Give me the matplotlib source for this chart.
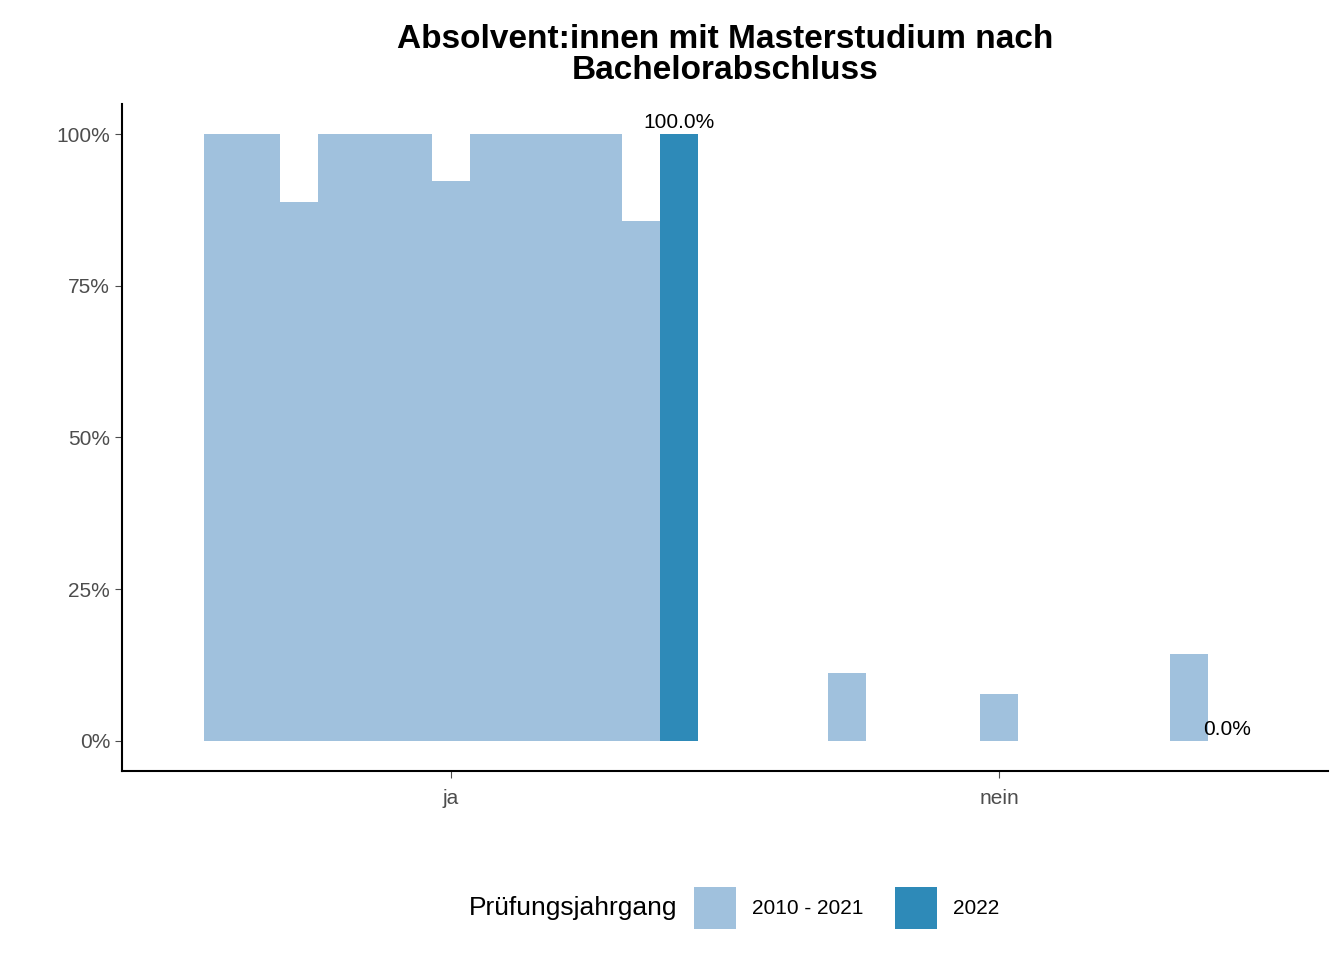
import matplotlib
matplotlib.use("Agg")
import matplotlib.pyplot as plt
from matplotlib.patches import Rectangle

plt.rcParams["font.family"] = "Liberation Sans"

categories = ["ja", "nein"]
years = list(range(2010, 2023))
ja_values = [100, 100, 88.9, 100, 100, 100, 92.3, 100, 100, 100, 100, 85.7, 100]
nein_values = [0, 0, 11.1, 0, 0, 0, 7.7, 0, 0, 0, 0, 14.3, 0]
legend_labels = ["2010 - 2021", "2022"]

light, dark = "#A0C1DD", "#2E8AB8"
W, H = 1344, 960
fig = plt.figure(figsize=(13.44, 9.6), dpi=100)
ax = fig.add_axes([122 / W, 1 - 771 / H, (1328 - 122) / W, (771 - 104) / H])

n = len(years)
w = 0.9 / n
for ci, vals in enumerate([ja_values, nein_values]):
    center = ci + 1
    for k, v in enumerate(vals):
        x = center - 0.45 + w * (k + 0.5)
        ax.bar(x, v, width=w, color=dark if years[k] == 2022 else light, linewidth=0)
    xl = center - 0.45 + w * (n - 0.5)
    ax.text(xl, vals[-1] + 0.3, f"{vals[-1]:.1f}%", ha="center", va="bottom", fontsize=15)

ax.set_xlim(0.4, 2.6)
ax.set_ylim(-5, 105)
ax.set_xticks([1, 2])
ax.set_xticklabels(categories)
ax.set_yticks([0, 25, 50, 75, 100])
ax.set_yticklabels(["0%", "25%", "50%", "75%", "100%"])
ax.tick_params(labelsize=15, colors="#4d4d4d", length=5)
ax.tick_params(axis="x", pad=8)
for s in ["top", "right"]:
    ax.spines[s].set_visible(False)
for s in ["left", "bottom"]:
    ax.spines[s].set_linewidth(1.5)

ax.set_title("Absolvent:innen mit Masterstudium nach\nBachelorabschluss",
             fontsize=24, fontweight="bold", pad=18, linespacing=1.0)

# legend drawn manually in figure pixel coords
ly = 1 - 908 / H
fig.text(677 / W, ly, "Prüfungsjahrgang", ha="right", va="center", fontsize=19)
for x0, col, lab in [(694, light, legend_labels[0]), (895, dark, legend_labels[1])]:
    fig.patches.append(Rectangle((x0 / W, 1 - 929 / H), 42 / W, 42 / H,
                                 transform=fig.transFigure, color=col, linewidth=0))
    fig.text((x0 + 58) / W, ly, lab, ha="left", va="center", fontsize=15)

fig.savefig("out.png", dpi=100)
